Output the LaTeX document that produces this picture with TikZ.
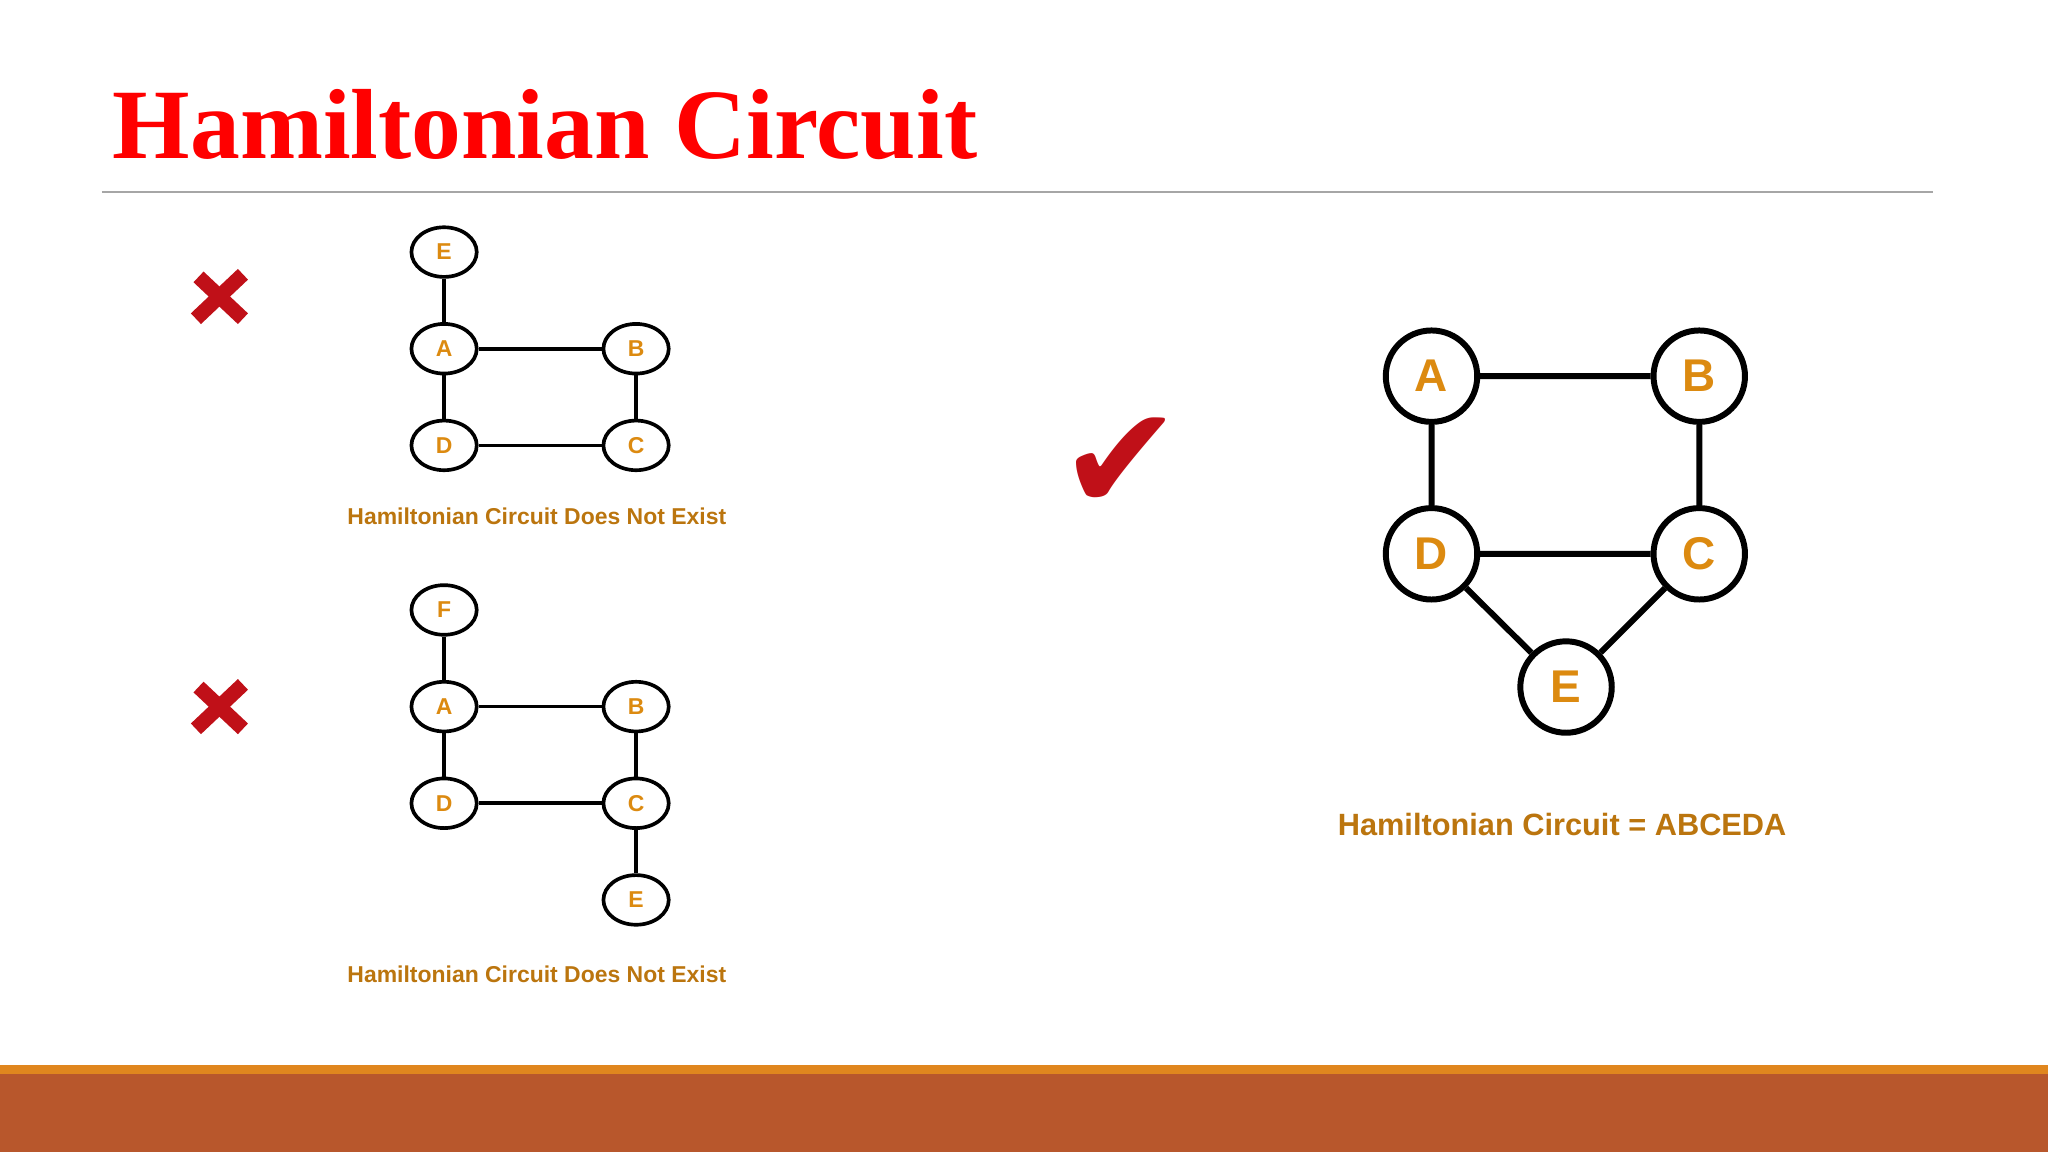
\documentclass[tikz,border=0pt]{standalone}
\usepackage{fontspec}
\usetikzlibrary{shapes.geometric}
\setmainfont{Liberation Serif}
\newfontfamily\lsans{Liberation Sans}
\newfontfamily\dvs{DejaVu Sans}
\definecolor{ttl}{HTML}{FF0000}
\definecolor{org}{HTML}{DC8A10}
\definecolor{bar1}{HTML}{E0861E}
\definecolor{bar2}{HTML}{B8572C}
\definecolor{xred}{HTML}{C01018}
\begin{document}
\begin{tikzpicture}[x=0.1mm,y=-0.1mm,
  sn/.style={draw,thick,ellipse,minimum width=5mm,minimum height=3.8mm,inner sep=0pt,font=\lsans\bfseries\fontsize{5}{6}\selectfont,text=org},
  bn/.style={draw,line width=1.3pt,circle,minimum size=7mm,inner sep=0pt,font=\lsans\bfseries\fontsize{10}{12}\selectfont,text=org},
  lbl/.style={font=\lsans\bfseries\fontsize{5}{6}\selectfont,text=org!85!black},
  ed/.style={draw,thick},
  bed/.style={draw,line width=1.3pt}]
\useasboundingbox (0,0) rectangle (1568,882);
\fill[white] (0,0) rectangle (1568,882);
\fill[bar1] (0,815) rectangle (1568,822);
\fill[bar2] (0,822) rectangle (1568,882);
\node[anchor=west,text=ttl,font=\bfseries\fontsize{21.7}{26}\selectfont] (title) at (74,95) {Hamiltonian Circuit};
\draw[gray!70,line width=0.5pt] (78,147) -- (1480,147);
% X marks
\foreach \yy/\nm in {228/x1,542/x2}{
  \draw[xred,line width=3.2pt] (152,\yy-16) -- (186,\yy+16);
  \draw[xred,line width=3.2pt] (186,\yy-18) -- (150,\yy+16);
}
\node[text=xred,font=\dvs\fontsize{32}{36}\selectfont] (chk) at (858,355) {✔};
% graph 1
\node[sn] (e1) at (340,193) {E};
\node[sn] (a1) at (340,267) {A};
\node[sn] (b1) at (487,267) {B};
\node[sn] (d1) at (340,341) {D};
\node[sn] (c1) at (487,341) {C};
\draw[ed] (e1)--(a1) (a1)--(b1) (a1)--(d1) (b1)--(c1) (d1)--(c1);
\node[lbl] (l1) at (411,395) {Hamiltonian Circuit Does Not Exist};
% graph 2
\node[sn] (f2) at (340,467) {F};
\node[sn] (a2) at (340,541) {A};
\node[sn] (b2) at (487,541) {B};
\node[sn] (d2) at (340,615) {D};
\node[sn] (c2) at (487,615) {C};
\node[sn] (e2) at (487,689) {E};
\draw[ed] (f2)--(a2) (a2)--(b2) (a2)--(d2) (b2)--(c2) (d2)--(c2) (c2)--(e2);
\node[lbl] (l2) at (411,746) {Hamiltonian Circuit Does Not Exist};
% right graph
\node[bn] (a3) at (1096,288) {A};
\node[bn] (b3) at (1301,288) {B};
\node[bn] (d3) at (1096,424) {D};
\node[bn] (c3) at (1301,424) {C};
\node[bn] (e3) at (1199,526) {E};
\draw[bed] (a3)--(b3) (a3)--(d3) (b3)--(c3) (d3)--(c3) (d3)--(e3) (c3)--(e3);
\node[lbl,font=\lsans\bfseries\fontsize{6.7}{8}\selectfont] (l3) at (1196,631) {Hamiltonian Circuit = ABCEDA};
\end{tikzpicture}
\end{document}
